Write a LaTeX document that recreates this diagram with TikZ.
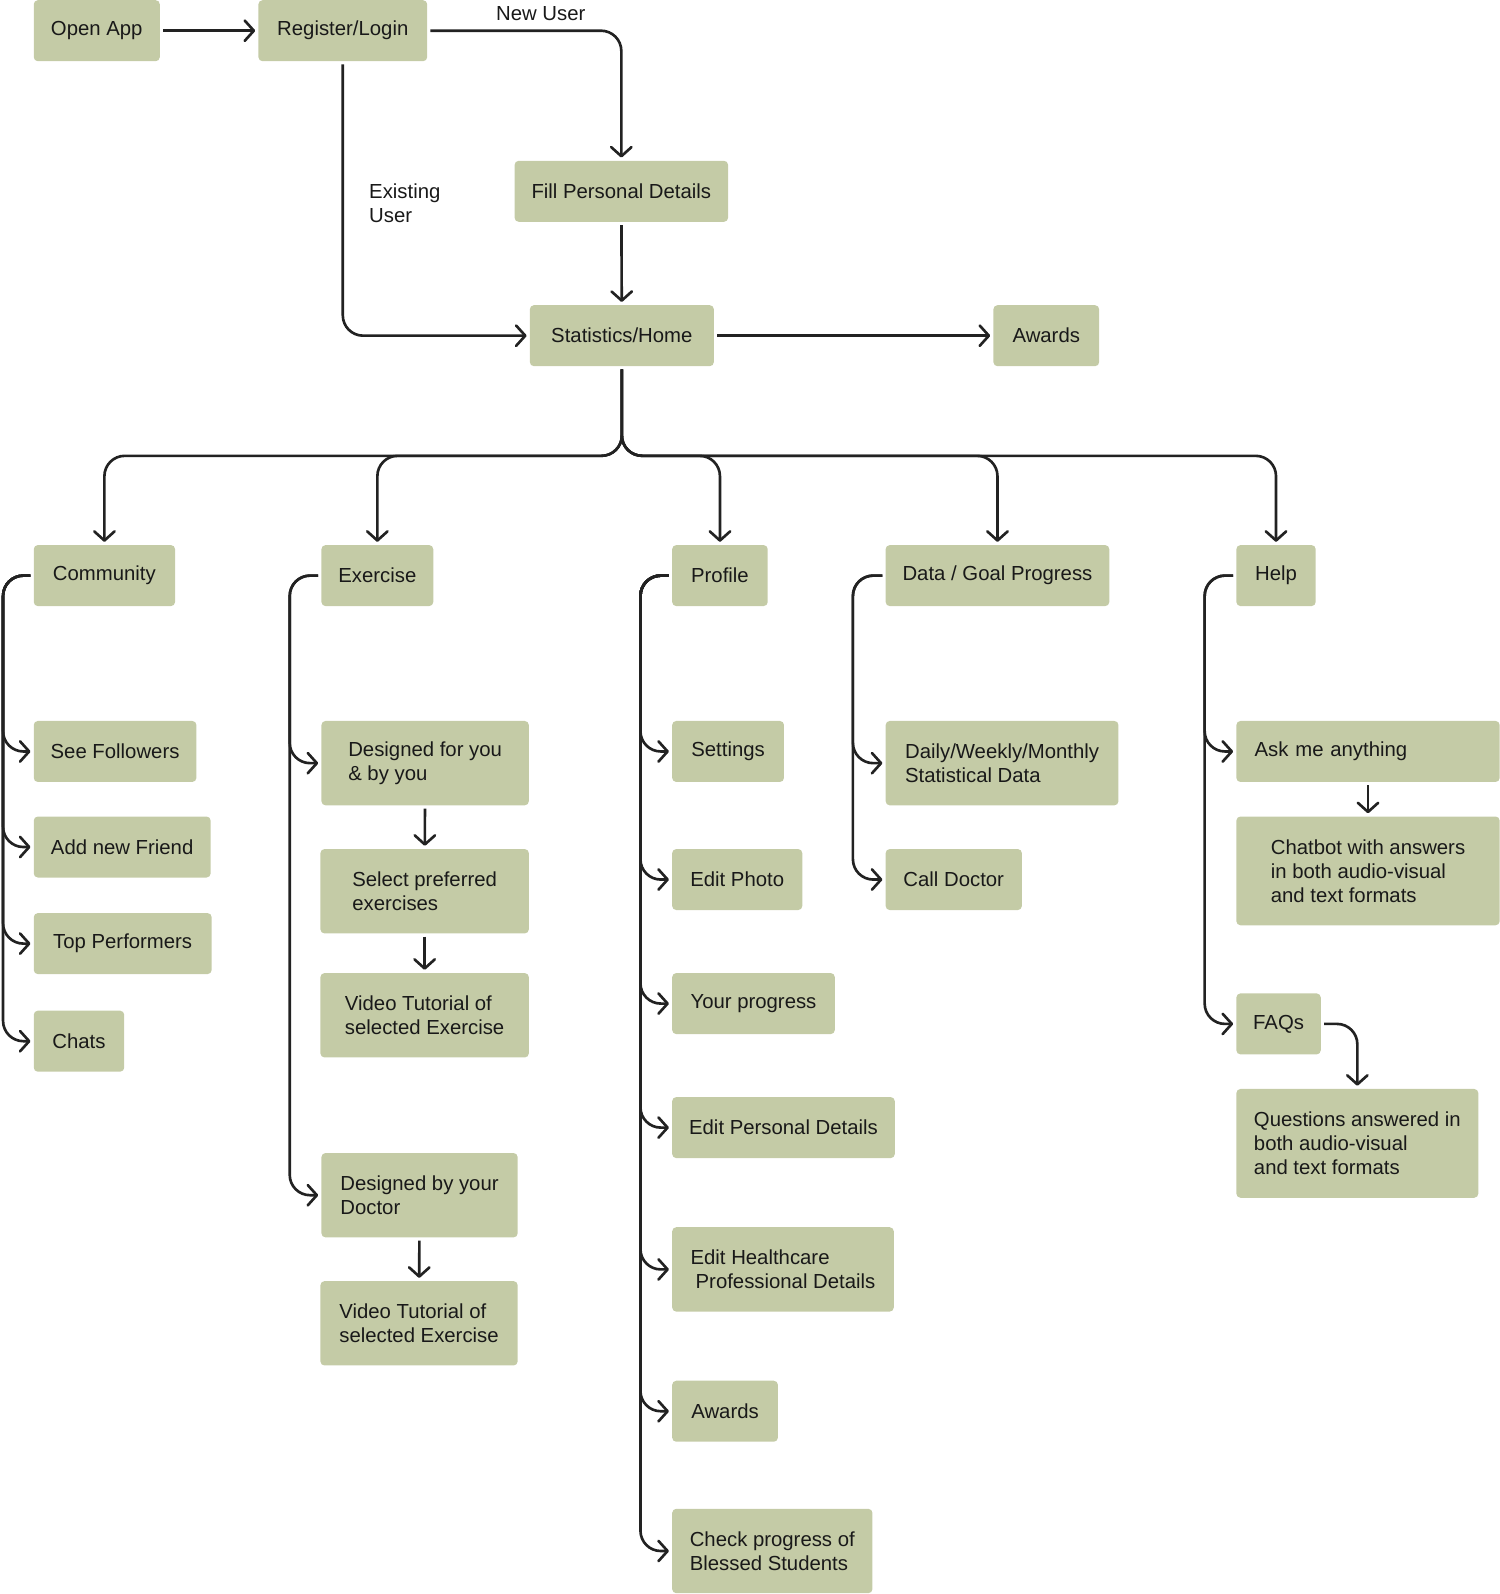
\documentclass[tikz,border=0pt]{standalone}
\usepackage{fontspec}
\setmainfont{Liberation Sans}
\usetikzlibrary{arrows.meta}
\definecolor{boxfill}{RGB}{196,203,166}
\definecolor{linecol}{RGB}{34,34,34}
\tikzset{
    box/.style={rectangle, fill=boxfill, rounded corners=4pt, inner sep=0pt, align=left, anchor=north west, minimum height=60pt, text=black!90, font=\fontsize{20}{23.5}\selectfont},
    tall/.style={minimum height=83pt},
    taller/.style={minimum height=107pt},
    note/.style={align=left, inner sep=0pt, text=black!90, font=\fontsize{20}{23.5}\selectfont},
    flow/.style={draw=linecol, line width=2.6pt, rounded corners=20pt, -{Straight Barb[length=9pt,width=20pt,round]}, shorten >=3pt, shorten <=3pt}
}

\begin{document}
\begin{tikzpicture}[x=1pt, y=-1pt]
    \useasboundingbox (0,0) rectangle (1475,1568);

    \node[box, minimum width=124pt] (openapp) at (33,0) {Open App};
    \node[box, minimum width=166pt] (register) at (254,0) {Register/Login};
    \node[box, minimum width=210pt] (fill) at (506,158) {Fill Personal Details};
    \node[box, minimum width=181pt] (stats) at (521,300) {Statistics/Home};
    \node[box, minimum width=104pt] (awards) at (977,300) {Awards};

    \node[note] (newuser) at (532,13) {New User};
    \node[note, anchor=west] (existing) at (363,200) {Existing\\User};

    \node[box, minimum width=139pt] (community) at (33,536) {Community};
    \node[box, minimum width=110pt] (exercise) at (316,536) {Exercise};
    \node[box, minimum width=94pt] (profile) at (661,536) {Profile};
    \node[box, minimum width=220pt] (data) at (871,536) {Data / Goal Progress};
    \node[box, minimum width=78pt] (help) at (1216,536) {Help};

    \node[box, minimum width=160pt] (seefollow) at (33,709) {See Followers};
    \node[box, minimum width=174pt] (addfriend) at (33,803) {Add new Friend};
    \node[box, minimum width=175pt] (topperf) at (33,898) {Top Performers};
    \node[box, minimum width=89pt] (chats) at (33,994) {Chats};

    \node[box, tall, minimum width=204pt] (designedyou) at (316,709) {Designed for you\\\& by you};
    \node[box, tall, minimum width=205pt] (selectex) at (315,835) {Select preferred\\exercises};
    \node[box, tall, minimum width=205pt] (videoa) at (315,957) {Video Tutorial of\\selected Exercise};
    \node[box, tall, minimum width=193pt] (designeddoc) at (316,1134) {Designed by your\\Doctor};
    \node[box, tall, minimum width=194pt] (videob) at (315,1260) {Video Tutorial of\\selected Exercise};

    \node[box, minimum width=110pt] (settings) at (661,709) {Settings};
    \node[box, minimum width=128pt] (editphoto) at (661,835) {Edit Photo};
    \node[box, minimum width=160pt] (yourprog) at (661,957) {Your progress};
    \node[box, minimum width=219pt] (editpers) at (661,1079) {Edit Personal Details};
    \node[box, tall, minimum width=218pt] (edithealth) at (661,1207) {Edit Healthcare\\\hspace*{5pt}Professional Details};
    \node[box, minimum width=104pt] (awardsb) at (661,1358) {Awards};
    \node[box, tall, minimum width=197pt] (checkprog) at (661,1484) {Check progress of\\Blessed Students};

    \node[box, tall, minimum width=229pt] (dailydata) at (871,709) {Daily/Weekly/Monthly\\Statistical Data};
    \node[box, minimum width=134pt] (calldoc) at (871,835) {Call Doctor};

    \node[box, inner xsep=18pt, text width=223pt] (askme) at (1216,709) {Ask me anything};
    \node[box, taller, minimum width=259pt] (chatbot) at (1216,803) {Chatbot with answers\\in both audio-visual\\and text formats};
    \node[box, minimum width=83pt] (faqs) at (1216,977) {FAQs};
    \node[box, taller, minimum width=238pt] (questions) at (1216,1071) {Questions answered in\\both audio-visual\\and text formats};

    \draw[flow] (openapp) -- (register);
    \draw[flow] (register.east) -| (fill.north);
    \draw[flow] (register.south) |- (stats.west);
    \draw[flow] (fill) -- (stats);
    \draw[flow] (stats) -- (awards);
    \foreach \n in {community, exercise, profile, data, help}
        \draw[flow] (stats.south) -- ++(0,88) -| (\n.north);

    \foreach \n in {seefollow, addfriend, topperf, chats}
        \draw[flow] (community.west) -- ++(-30,0) |- (\n.west);
    \foreach \n in {designedyou, designeddoc}
        \draw[flow] (exercise.west) -- ++(-31,0) |- (\n.west);
    \foreach \n in {settings, editphoto, yourprog, editpers, edithealth, awardsb, checkprog}
        \draw[flow] (profile.west) -- ++(-31,0) |- (\n.west);
    \foreach \n in {dailydata, calldoc}
        \draw[flow] (data.west) -- ++(-32,0) |- (\n.west);
    \foreach \n in {askme, faqs}
        \draw[flow] (help.west) -- ++(-31,0) |- (\n.west);

    \draw[flow] (designedyou) -- (selectex);
    \draw[flow] (selectex) -- (videoa);
    \draw[flow] (designeddoc) -- (videob);
    \draw[flow] (askme) -- (chatbot);
    \draw[flow] (faqs.east) -| (questions.north);
\end{tikzpicture}
\end{document}
